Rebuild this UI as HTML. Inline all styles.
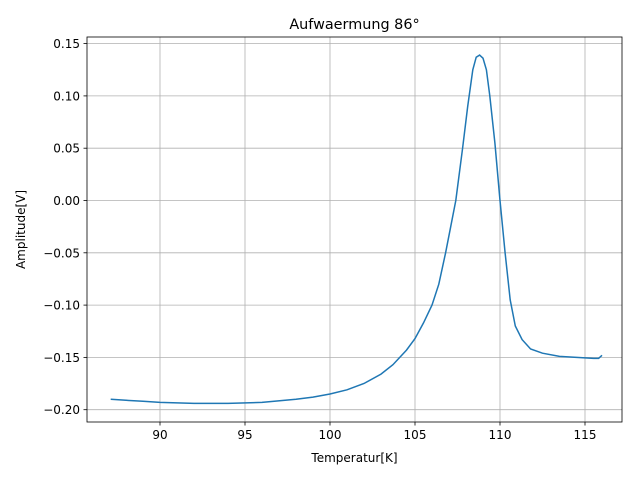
<!DOCTYPE html>
<html><head><meta charset="utf-8"><style>
body{margin:0;background:#fff;}
svg text{font-family:"DejaVu Sans","Liberation Sans",sans-serif;fill:#000;}
</style></head><body>
<svg id="chart" width="640" height="480" xmlns="http://www.w3.org/2000/svg">
<rect width="640" height="480" fill="#fff"/>
<g id="grid"></g>
<g id="ticks"></g>
<path id="line" fill="none" stroke="#1f77b4" stroke-width="1.5"/>
<rect x="87" y="37" width="535" height="385" fill="none" stroke="#000" stroke-width="0.8"/>
<text x="354.5" y="29" font-size="14.4" text-anchor="middle">Aufwaermung 86°</text>
<text x="354.5" y="462" font-size="12" text-anchor="middle">Temperatur[K]</text>
<text x="25" y="229.5" font-size="12" text-anchor="middle" transform="rotate(-90 25 229.5)">Amplitude[V]</text>
</svg>
<script>
const xs=[87.1,88,89,90,92,94,96,98,99,100,101,102,103,103.7,104.5,105,105.5,106,106.4,106.8,107.1,107.4,107.8,108.1,108.4,108.6,108.8,109,109.2,109.4,109.7,110,110.3,110.6,110.9,111.3,111.8,112.5,113.5,114.5,115.5,115.8,116];
const ys=[-0.190,-0.191,-0.192,-0.193,-0.194,-0.194,-0.193,-0.190,-0.188,-0.185,-0.181,-0.175,-0.166,-0.157,-0.143,-0.132,-0.117,-0.100,-0.080,-0.050,-0.025,0.000,0.050,0.090,0.125,0.137,0.139,0.136,0.125,0.100,0.055,0.000,-0.050,-0.095,-0.120,-0.133,-0.142,-0.146,-0.149,-0.150,-0.151,-0.151,-0.148];
const xTicks=[90,95,100,105,110,115];
const yTicks=[0.15,0.10,0.05,0.00,-0.05,-0.10,-0.15,-0.20];
const yLabels=["0.15","0.10","0.05","0.00","\u22120.05","\u22120.10","\u22120.15","\u22120.20"];
function X(v){return 160+(v-90)*17;}
function Y(v){return 200.5-v*1046;}
const NS="http://www.w3.org/2000/svg";
const grid=document.getElementById('grid'),ticks=document.getElementById('ticks');
function mk(tag,attrs,parent){const e=document.createElementNS(NS,tag);for(const k in attrs)e.setAttribute(k,attrs[k]);parent.appendChild(e);return e;}
xTicks.forEach(t=>{const x=X(t);
 const g=mk('line',{x1:x,x2:x,y1:37,y2:422,stroke:'#b0b0b0','stroke-width':0.8},grid);
 
 
 mk('line',{x1:x,x2:x,y1:422,y2:425.5,stroke:'#000','stroke-width':0.8},ticks);
 const tx=mk('text',{x:x,y:439,'font-size':12,'text-anchor':'middle'},ticks);tx.textContent=t;
 
 
});
yTicks.forEach((t,i)=>{const y=Y(t);
 const g=mk('line',{x1:87,x2:622,y1:y,y2:y,stroke:'#b0b0b0','stroke-width':0.8},grid);
 
 
 mk('line',{x1:83.5,x2:87,y1:y,y2:y,stroke:'#000','stroke-width':0.8},ticks);
 const tx=mk('text',{x:80,y:y+4.5,'font-size':12,'text-anchor':'end'},ticks);tx.textContent=yLabels[i];
 
 
});
document.getElementById('line').setAttribute('d',xs.map((v,i)=>(i?'L':'M')+X(v).toFixed(1)+' '+Y(ys[i]).toFixed(1)).join(' '));
</script>
</body></html>
